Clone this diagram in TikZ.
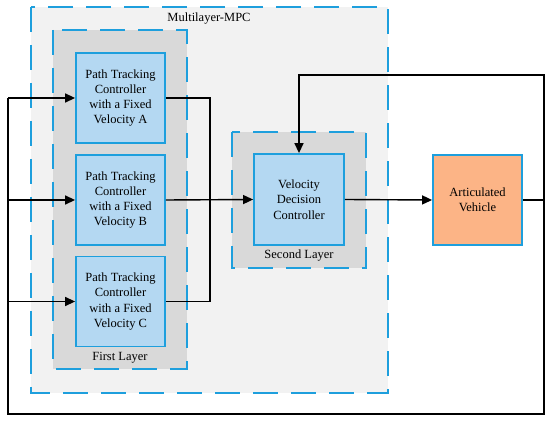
\documentclass[tikz,border=0pt]{standalone}
\usepackage{fontspec}
\setmainfont{Liberation Serif}
\usetikzlibrary{arrows.meta,shadows}
\definecolor{bluebd}{HTML}{1E9FDD}
\definecolor{blockfill}{HTML}{B4D8F2}
\definecolor{outerfill}{HTML}{F2F2F2}
\definecolor{layerfill}{HTML}{D9D9D9}
\definecolor{avfill}{HTML}{FCB486}
\tikzset{
  lay/.style={draw=bluebd, line width=1.8pt, dash pattern=on 25pt off 13pt, inner sep=0pt},
  blk/.style={draw=bluebd, line width=1.8pt, fill=blockfill, inner sep=0pt, align=center,
    font=\fontsize{12.5}{15.3}\selectfont,
    drop shadow={shadow xshift=1pt, shadow yshift=-1pt, opacity=0.25}},
  lbl/.style={font=\fontsize{12.5}{15}\selectfont, inner sep=0pt},
  conn/.style={line width=1.4pt, black},
  arr/.style={conn, -{Triangle[length=10pt,width=9pt]}}
}
\begin{document}
\begin{tikzpicture}[x=1pt,y=-1pt]
\useasboundingbox (0,0) rectangle (550,422);
% outer MPC box
\filldraw[lay, fill=outerfill] (31,7) rectangle (388,393);
\node[lbl] (mpclbl) at (209,19) {Multilayer-MPC};
% first layer
\filldraw[lay, fill=layerfill] (53,30) rectangle (187,369);
\node[lbl] (l1lbl) at (120,358) {First Layer};
% second layer
\filldraw[lay, fill=layerfill] (232,132) rectangle (366,268);
\node[lbl] (l2lbl) at (299,256) {Second Layer};
% blocks
\node[blk, minimum width=89pt, minimum height=90pt] (A) at (120.5,98) {Path Tracking\\Controller\\with a Fixed\\Velocity A};
\node[blk, minimum width=89pt, minimum height=90pt] (B) at (120.5,200) {Path Tracking\\Controller\\with a Fixed\\Velocity B};
\node[blk, minimum width=89pt, minimum height=90pt] (C) at (120.5,301.5) {Path Tracking\\Controller\\with a Fixed\\Velocity C};
\node[blk, minimum width=90pt, minimum height=91pt] (V) at (299,199.5) {Velocity\\Decision\\Controller};
\node[blk, fill=avfill, minimum width=89pt, minimum height=90pt] (AV) at (477.5,200) {Articulated\\Vehicle};
% coordinates
\coordinate (jn) at (210,200);
\coordinate (fr) at (544,200);
\coordinate (tr) at (544,75);
\coordinate (br) at (544,414);
\coordinate (bl) at (8,414);
\coordinate (la) at (8,98);
\coordinate (lb) at (8,200);
\coordinate (lc) at (8,301.5);
% connectors
\draw[conn] (A.east) -| (jn);
\draw[conn] (C.east) -| (jn);
\draw[arr] (B.east) -- (V.west);
\draw[arr] (V.east) -- (AV.west);
\draw[conn] (AV.east) -- (fr);
\draw[arr] (fr) -- (tr) -| (V.north);
\draw[conn] (fr) -- (br) -- (bl) -- (la);
\draw[arr] (la) -- (A.west);
\draw[arr] (lb) -- (B.west);
\draw[arr] (lc) -- (C.west);
\end{tikzpicture}
\end{document}
